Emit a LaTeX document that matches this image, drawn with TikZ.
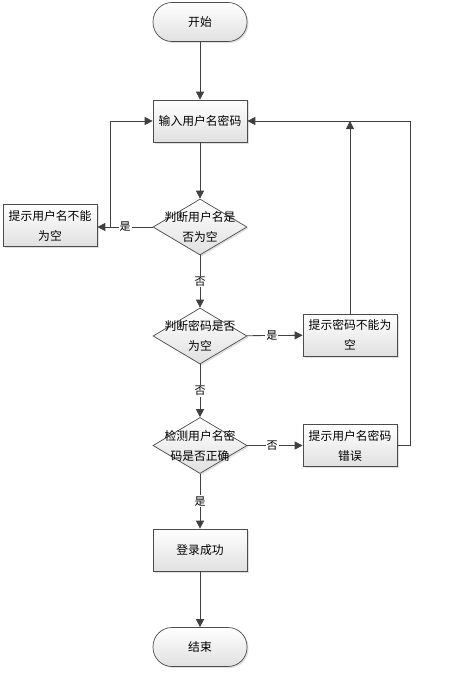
\documentclass[tikz,border=0pt]{standalone}
\usepackage{fontspec}
\setmainfont{Noto Sans CJK SC}
\usetikzlibrary{shapes.geometric,arrows.meta,shadows}
\begin{document}
\begin{tikzpicture}[x=1pt,y=-1pt,
  font=\fontsize{11.8}{20}\selectfont,
  base/.style={draw=black!70, line width=0.7pt, top color=white, bottom color=black!12,
    drop shadow={shadow xshift=1.5pt,shadow yshift=-1.5pt,opacity=0.25}},
  proc/.style={base, rectangle, minimum width=94pt, minimum height=42pt, inner sep=0pt},
  term/.style={base, rectangle, rounded corners=19pt, minimum width=94pt, minimum height=39pt, inner sep=0pt},
  diam/.style={base, diamond, minimum width=94pt, minimum height=56pt, inner sep=0pt},
  txt/.style={align=center, inner sep=0pt},
  conn/.style={draw=black!75, line width=0.8pt, -{Triangle[length=8pt,width=8pt]}},
  line/.style={draw=black!75, line width=0.8pt},
  lab/.style={fill=white, inner sep=1pt, font=\fontsize{11}{12}\selectfont}
]
\useasboundingbox (0,0) rectangle (459,674);

\node[term] (start) at (200,22) {开始};
\node[proc] (input) at (200,121) {输入用户名密码};
\node[diam] (d1) at (200,227) {};
\node[txt] at (d1) {判断用户名是\\否为空};
\node[proc] (e1) at (50,225.5) {};
\node[txt] at (e1) {提示用户名不能\\为空};
\node[diam] (d2) at (200,336) {};
\node[txt] at (d2) {判断密码是否\\为空};
\node[proc] (e2) at (350,335) {};
\node[txt] at (e2) {提示密码不能为\\空};
\node[diam] (d3) at (200,445.5) {};
\node[txt] at (d3) {检测用户名密\\码是否正确};
\node[proc] (e3) at (350,445.5) {};
\node[txt] at (e3) {提示用户名密码\\错误};
\node[proc] (ok) at (200,550) {登录成功};
\node[term] (end) at (200,647) {结束};

\coordinate (j1) at (110,227);
\coordinate (r2) at (350,121);
\coordinate (r3) at (410,445.5);

\draw[conn] (start) -- (input);
\draw[conn] (input) -- (d1);
\draw[conn] (d1.west) -- node[lab, pos=0.5] {是} (e1.east |- d1.west);
\draw[conn] (j1) |- (input.west);
\draw[conn] (d1) -- node[lab] {否} (d2);
\draw[conn] (d2) -- node[lab, pos=0.45] {是} (e2);
\draw[conn] (e2) -- (r2);
\draw[conn] (d2) -- node[lab] {否} (d3);
\draw[conn] (d3) -- node[lab, pos=0.45] {否} (e3);
\draw[conn] (e3.east) -- (r3) |- (input.east);
\draw[conn] (d3) -- node[lab] {是} (ok);
\draw[conn] (ok) -- (end);
\end{tikzpicture}
\end{document}
